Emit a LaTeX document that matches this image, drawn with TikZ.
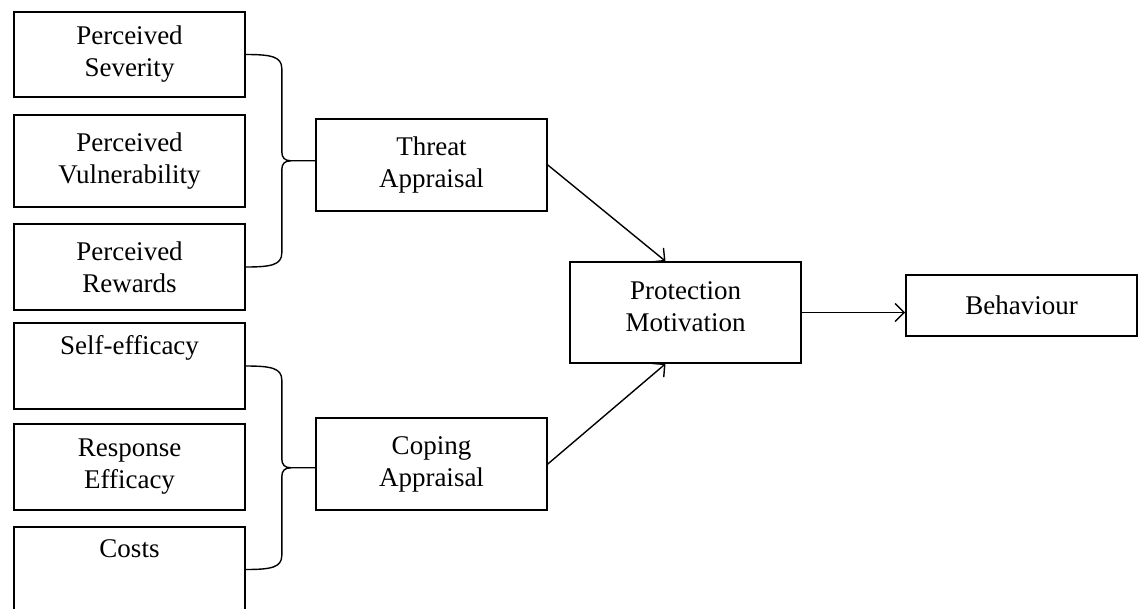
\documentclass[tikz,border=0pt]{standalone}
\usepackage{fontspec}
\setmainfont{Liberation Serif}
\usetikzlibrary{arrows.meta,calc}
\begin{document}
\begin{tikzpicture}[x=1pt,y=-1pt,
 txt/.style={inner sep=0pt,align=center,font=\fontsize{27}{32}\selectfont},
 box/.style={txt,draw,line width=1.6pt,minimum width=231},
 conn/.style={line width=1.4pt},
 arr/.style={conn,-{Straight Barb[length=9pt,width=18pt,line width=1.4pt]}}]
\useasboundingbox (0,0) rectangle (1140,608);
% left column
\node[box,minimum height=85] (ps) at (129.5,54.5) {Perceived\\Severity};
\node[box,minimum height=92] (pv) at (129.5,161) {Perceived\\Vulnerability};
\node[box,minimum height=86] (pr) at (129.5,267) {Perceived\\Rewards};
\node[box,minimum height=86] (se) at (129.5,366) {Self-efficacy\\\strut};
\node[box,minimum height=86] (re) at (129.5,467) {Response\\Efficacy};
\node[box,minimum height=85] (co) at (129.5,569.5) {Costs\\\strut};
% middle
\node[box,minimum height=92] (ta) at (431.5,165) {Threat\\Appraisal};
\node[box,minimum height=92] (ca) at (431.5,464) {Coping\\Appraisal};
\node[box,minimum height=101] (pm) at (685.5,312.5) {};
\node[txt] (pmlabel) at ($(pm.center)+(0,-6)$) {Protection\\Motivation};
\node[box,minimum height=61] (bh) at (1021.5,305.5) {Behaviour};
% braces
\coordinate (t1) at ($(ps.east)!0.5!(pr.east)+(45,0)$);
\draw[conn] (ps.east) .. controls ++(25,0) and ++(0,-12) .. ++(36,14)
  -- ($(t1)+(-9,-9)$) .. controls ++(0,6) and ++(-6,0) .. (t1)
  -- (ta.west |- t1);
\draw[conn] (pr.east) .. controls ++(25,0) and ++(0,12) .. ++(36,-14)
  -- ($(t1)+(-9,9)$) .. controls ++(0,-6) and ++(-6,0) .. (t1);
\coordinate (t2) at ($(se.east)!0.5!(co.east)+(45,0)$);
\draw[conn] (se.east) .. controls ++(25,0) and ++(0,-12) .. ++(36,14)
  -- ($(t2)+(-9,-9)$) .. controls ++(0,6) and ++(-6,0) .. (t2)
  -- (ca.west |- t2);
\draw[conn] (co.east) .. controls ++(25,0) and ++(0,12) .. ++(36,-14)
  -- ($(t2)+(-9,9)$) .. controls ++(0,-6) and ++(-6,0) .. (t2);
% arrows
\coordinate (pmt) at ($(pm.north)+(-20,0)$);
\coordinate (pmb) at ($(pm.south)+(-20,0)$);
\draw[arr] (ta.east) -- (pmt);
\draw[arr] (ca.east) -- (pmb);
\draw[arr] (pm.east) -- (bh.west |- pm.east);
\end{tikzpicture}
\end{document}
